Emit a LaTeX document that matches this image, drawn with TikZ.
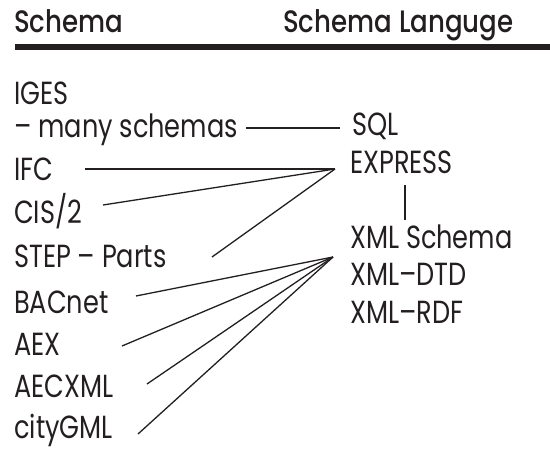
\documentclass[tikz,border=0pt]{standalone}
\usepackage{fontspec}
\setmainfont{Poppins}[FakeStretch=0.8]
\newfontfamily\headfont{Poppins Medium}[FakeStretch=0.84]
\definecolor{ink}{HTML}{231F20}

\begin{document}
\begin{tikzpicture}[x=1pt,y=-1pt]
  \useasboundingbox (0,0) rectangle (550,450);

      % header
      \begin{scope}[every node/.style={anchor=base west,inner sep=0pt,text=ink,font=\headfont\fontsize{31}{31}\selectfont}]
        \node (hschema) at (14,32)  {Schema};
        \node (hlang)   at (283,32) {Schema Languge};
      \end{scope}
      \draw[line width=5.5pt,ink] (15,47) -- (550,47);

      % schemas and languages
      \begin{scope}[every node/.style={anchor=base west,inner sep=0pt,text=ink,font=\fontsize{32}{32}\selectfont}]
        \node (iges)    at (14,104) {IGES};
        \node (many)    at (14,137) {-- many schemas};
        \node (ifc)     at (14,180) {IFC};
        \node (cis)     at (14,223) {CIS/2};
        \node (step)    at (14,267) {STEP -- Parts};
        \node (bacnet)  at (14,313) {BACnet};
        \node (aex)     at (14,355) {AEX};
        \node (aecxml)  at (14,397) {AECXML};
        \node (citygml) at (14,438) {cityGML};

        \node (sql)     at (352,135) {SQL};
        \node (express) at (350,173) {EXPRESS};
        \node (xsd)     at (350,248) {XML Schema};
        \node (dtd)     at (350,285) {XML--DTD};
        \node (rdf)     at (350,323) {XML--RDF};
      \end{scope}

      % line ends
      \coordinate (many-e)    at (246,128);
      \coordinate (sql-w)     at (340,128);
      \coordinate (ifc-e)     at (85,169);
      \coordinate (cis-e)     at (103,205);
      \coordinate (step-e)    at (212,257);
      \coordinate (bacnet-e)  at (136,296);
      \coordinate (aex-e)     at (122,346);
      \coordinate (aecxml-e)  at (147,384);
      \coordinate (citygml-e) at (138,434);
      \coordinate (exptip)    at (335,169);
      \coordinate (xmltip)    at (333,257);
      \coordinate (express-s) at (405,185);
      \coordinate (xsd-n)     at (405,220);

      \begin{scope}[every path/.style={draw,line width=1.3pt,ink}]
        \path (many-e)    edge (sql-w);
        \path (ifc-e)     edge (exptip);
        \path (cis-e)     edge (exptip);
        \path (step-e)    edge (exptip);
        \path (bacnet-e)  edge (xmltip);
        \path (aex-e)     edge (xmltip);
        \path (aecxml-e)  edge (xmltip);
        \path (citygml-e) edge (xmltip);
        \path (express-s) edge (xsd-n);
      \end{scope}

    \end{tikzpicture}
\end{document}
